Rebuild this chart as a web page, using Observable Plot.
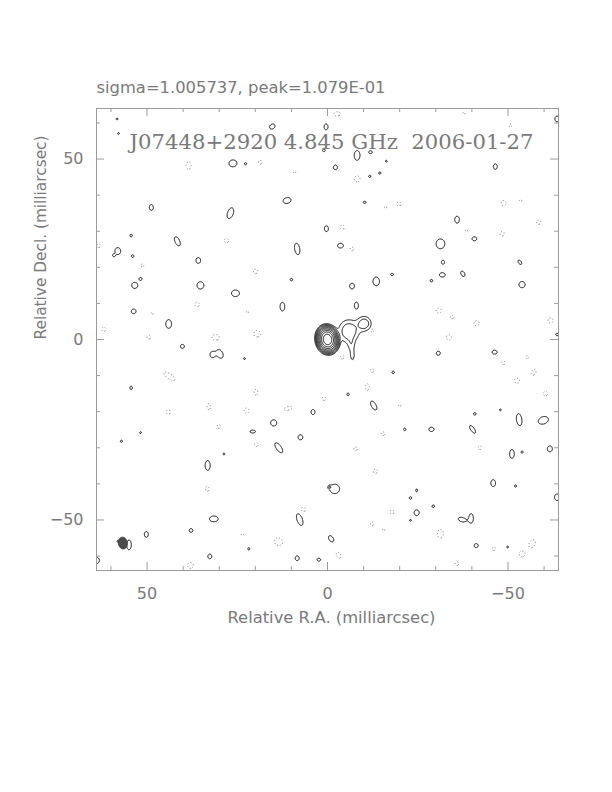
<!DOCTYPE html>
<html><head><meta charset="utf-8">
<script src="https://cdn.jsdelivr.net/npm/d3@7"></script>
<script src="https://cdn.jsdelivr.net/npm/@observablehq/plot@0.6"></script>
<style>body{margin:0;background:#fff} svg{display:block}</style>
</head><body><div id="chart"></div>
<script>
// ---- Texts ----
const statsLabel = "sigma=1.005737, peak=1.079E-01";
const titleLabel = "J07448+2920 4.845 GHz  2006-01-27";
const xAxisLabel = "Relative R.A. (milliarcsec)";
const yAxisLabel = "Relative Decl. (milliarcsec)";

// ---- Axes (milliarcsec) ----
const mapHalfSize = 64;
const tickValues = [-60, -50, -40, -30, -20, -10, 0, 10, 20, 30, 40, 50, 60];
const labelledTicks = [-50, 0, 50];

// ---- Contour levels (relative to the lowest contour) ----
const contourLevels = [1, 2, 4, 8, 16, 32, 64, 128, 256];

// ---- Source model components: [RA, Dec, amplitude, sigmaX, sigmaY, tilt deg] ----
const sourceComponents = [
  [0.0, 0.0, 500, 1.0, 1.25, -10],
  [-5.9, 2.3, 3.4, 1.8, 2.0, 0],
  [-10.2, 4.4, 3.1, 1.25, 1.3, 0],
  [-6.6, -1.5, 1.3, 0.7, 1.3, 0],
  [-6.9, -4.5, 1.3, 0.6, 1.3, 0]
];

// ---- Positive noise islands: [RA, Dec, halfWidth, halfHeight, tilt deg] ----
const positiveIslands = [
  [15.3, 59.0, 0.8, 0.65, -40], [0.4, 58.9, 0.55, 0.8, 0], [26.2, 48.8, 1.1, 0.95, 0],
  [22.7, 48.7, 0.3, 0.3, 0], [11.2, 38.5, 1.1, 0.8, -15], [48.8, 36.6, 0.55, 0.8, 0],
  [26.9, 35.0, 0.8, 1.55, 20], [54.4, 28.8, 0.35, 0.35, 0], [0.3, 30.7, 0.55, 0.8, 0],
  [41.6, 27.2, 0.65, 1.35, -25], [8.4, 25.1, 0.7, 1.6, -10], [58.1, 24.5, 0.8, 0.95, 0],
  [59.2, 23.3, 0.3, 0.3, 0], [54.0, 23.1, 0.35, 0.35, 0], [35.8, 21.9, 0.65, 0.8, 0],
  [53.4, 15.0, 0.85, 0.85, 0], [51.8, 16.8, 0.4, 0.4, 0], [35.2, 15.0, 0.95, 1.0, 0],
  [25.5, 12.8, 1.1, 0.9, 0], [10.0, 16.6, 0.35, 0.35, 0], [12.5, 9.1, 0.65, 1.2, 0],
  [53.7, 7.8, 0.65, 0.65, 0], [44.0, 4.3, 0.8, 1.2, 0], [58.3, 61.1, 0.25, 0.25, 0],
  [57.9, 57.1, 0.25, 0.25, 0], [1.0, 52.4, 0.4, 0.35, 0], [-8.2, 51.0, 0.8, 1.35, 0],
  [-11.9, 51.9, 0.5, 0.4, 0], [-2.2, 47.7, 0.55, 0.65, 0], [-11.7, 45.2, 0.3, 0.3, 0],
  [-14.5, 46.1, 0.3, 0.3, 0], [-16.3, 49.4, 0.25, 0.25, 0], [-46.5, 47.9, 0.55, 0.75, 0],
  [-10.3, 38.0, 0.4, 0.3, 0], [-35.9, 33.2, 0.65, 0.95, 0], [-31.3, 26.5, 1.2, 1.35, 0],
  [-40.7, 27.9, 0.65, 0.55, 0], [-3.6, 26.0, 0.8, 0.65, 0], [-32.0, 21.4, 0.45, 0.55, 0],
  [-53.3, 21.4, 0.4, 0.7, -35], [-13.5, 16.1, 0.9, 1.2, 0], [-17.9, 18.0, 0.4, 0.3, 0],
  [-31.8, 17.9, 0.8, 0.6, 0], [-28.8, 16.3, 0.35, 0.35, 0], [-37.5, 18.2, 0.5, 0.8, -30],
  [-6.8, 14.8, 0.65, 0.8, 0], [-53.9, 15.2, 0.85, 0.85, 0], [-8.0, 9.4, 0.55, 0.95, 0],
  [-63.6, 61.1, 0.6, 0.8, 0], [40.2, -1.9, 0.55, 0.55, 0], [31.9, -4.2, 0.65, 0.8, 0],
  [29.8, -4.0, 0.8, 1.25, -25], [23.0, -5.3, 0.25, 0.25, 0], [54.4, -13.4, 0.35, 0.45, 0],
  [4.0, -20.1, 0.55, 0.7, 0], [14.9, -23.1, 0.85, 0.85, 0], [20.7, -25.5, 0.75, 0.4, 0],
  [7.5, -27.1, 0.65, 0.7, 0], [13.5, -30.0, 0.7, 1.6, -35], [57.1, -28.2, 0.3, 0.3, 0],
  [51.8, -25.8, 0.25, 0.25, 0], [28.7, -31.7, 0.25, 0.25, 0], [33.2, -34.9, 0.7, 1.35, 0],
  [31.5, -49.7, 1.2, 0.8, 0], [7.7, -49.9, 0.75, 1.7, -20], [37.8, -52.9, 0.5, 0.5, 0],
  [50.2, -54.0, 0.55, 0.8, 0], [55.0, -56.9, 0.65, 1.35, 0], [58.0, -55.9, 0.3, 0.3, 0],
  [-1.0, -55.2, 0.6, 0.95, -35], [32.6, -60.1, 0.55, 0.65, 0], [8.4, -60.6, 0.55, 0.65, 0],
  [2.4, -61.0, 0.5, 0.4, 0], [21.8, -58.0, 0.3, 0.3, 0], [64.0, -61.2, 0.8, 0.9, 0],
  [-0.6, -40.9, 0.3, 0.3, 0], [-30.7, -3.8, 0.55, 0.55, 0], [-46.3, -3.5, 0.7, 0.55, 0],
  [-18.2, -9.1, 0.35, 0.35, 0], [-5.7, -15.2, 0.35, 0.35, 0], [-12.8, -18.3, 0.65, 1.35, -30],
  [-40.8, -20.6, 0.35, 0.35, 0], [-21.4, -24.9, 0.35, 0.35, 0], [-28.8, -24.9, 0.7, 0.6, 0],
  [-40.2, -24.9, 0.5, 1.25, -35], [-53.1, -22.2, 0.75, 1.65, -8], [-59.8, -22.4, 1.45, 1.0, -20],
  [-47.9, -19.5, 0.25, 0.25, 0], [-51.1, -31.7, 0.65, 1.2, 0], [-53.9, -31.2, 0.3, 0.3, 0],
  [-61.6, -30.3, 0.7, 0.8, 0], [-2.0, -41.4, 1.35, 1.3, 0], [-24.7, -41.8, 0.25, 0.4, 0],
  [-23.0, -43.9, 0.35, 0.35, 0], [-29.3, -46.2, 0.35, 0.35, 0], [-24.7, -48.0, 0.7, 0.8, 0],
  [-37.3, -49.9, 1.1, 0.6, 15], [-39.8, -49.5, 0.6, 1.25, 0], [-45.9, -39.8, 0.65, 0.95, 0],
  [-52.1, -40.6, 0.3, 0.3, 0], [-63.6, -43.7, 0.7, 0.9, 0], [-41.2, -57.1, 0.55, 0.55, 0],
  [-23.0, -50.1, 0.25, 0.25, 0], [-49.9, -57.5, 0.25, 0.25, 0], [-63.6, 1.4, 0.35, 0.35, 0]
];

// ---- Negative noise islands: [RA, Dec, halfWidth, halfHeight, tilt deg] ----
const negativeIslands = [
  [38.5, 48.2, 0.7, 1.0, 0], [18.6, 49.1, 0.5, 0.5, 0], [9.1, 46.3, 0.3, 0.3, 0],
  [28.0, 27.4, 0.6, 0.6, 0], [19.9, 18.9, 0.6, 0.6, 0], [51.3, 20.5, 0.4, 0.4, 0],
  [36.1, 9.7, 0.6, 0.6, 0], [63.4, 26.0, 0.5, 0.5, 0], [62.0, 2.8, 0.6, 0.6, 0],
  [31.0, 0.6, 1.0, 0.8, 0], [19.5, 1.6, 0.9, 0.9, 0], [48.6, 7.2, 0.3, 0.3, 0],
  [22.2, 7.6, 0.3, 0.3, 0], [-2.7, 62.5, 0.9, 0.6, 0], [-37.8, 62.7, 0.3, 0.3, 0],
  [-8.2, 44.5, 0.8, 0.8, 0], [-19.8, 37.6, 0.7, 0.5, 0], [-16.1, 36.6, 0.3, 0.3, 0],
  [-48.8, 37.8, 0.7, 0.7, 0], [-53.5, 38.5, 0.3, 0.3, 0], [-50.7, 59.3, 0.4, 0.4, 0],
  [-58.5, 32.5, 0.6, 0.6, 0], [-48.4, 29.3, 0.6, 0.6, 0], [-4.1, 31.1, 0.6, 0.6, 0],
  [-6.8, 25.1, 0.5, 0.5, 0], [-38.5, 30.2, 0.3, 0.3, 0], [-30.8, 8.0, 0.7, 0.7, 0],
  [-34.5, 6.2, 0.5, 0.5, 0], [-41.3, 4.5, 0.7, 0.7, 0], [-61.8, 5.3, 0.7, 0.7, 0],
  [-12.4, 2.5, 0.4, 0.4, 0], [-33.6, 0.6, 0.7, 0.7, 0], [49.5, 0.6, 0.5, 0.5, 0],
  [43.8, -10.2, 0.7, 1.8, -55], [19.8, -14.6, 0.5, 0.8, 0], [32.9, -18.6, 0.5, 0.8, 0],
  [44.1, -20.1, 0.6, 0.6, 0], [30.1, -24.1, 0.5, 0.5, 0], [22.4, -19.7, 0.7, 0.7, 0],
  [10.9, -19.1, 1.2, 0.5, -15], [19.7, -29.1, 0.5, 0.5, 0], [1.0, -16.4, 0.5, 0.5, 0],
  [33.3, -41.4, 0.5, 0.7, 0], [6.7, -47.1, 0.6, 0.6, 0], [13.6, -56.0, 1.2, 1.0, 30],
  [38.0, -62.6, 0.8, 0.8, 0], [-4.1, -4.9, 0.5, 0.5, 0], [-7.0, -5.3, 0.4, 0.4, 0],
  [-12.4, -8.6, 0.5, 0.5, 0], [-11.0, -13.2, 0.6, 0.9, 0], [-48.7, -6.5, 0.5, 0.5, 0],
  [-55.3, -4.9, 0.4, 0.4, 0], [-57.1, -9.1, 0.6, 0.9, 30], [-52.5, -11.4, 0.7, 0.7, 0],
  [-60.4, -15.0, 0.6, 0.6, 0], [-15.4, -26.1, 0.5, 0.5, 0], [-7.8, -30.3, 0.5, 0.5, 0],
  [-42.2, -30.0, 0.5, 0.5, 0], [-13.3, -36.5, 0.6, 0.6, 0], [-20.0, -18.3, 0.3, 0.3, 0],
  [-17.9, -47.8, 0.6, 0.6, 0], [-12.4, -51.1, 0.5, 0.5, 0], [-15.6, -52.7, 0.3, 0.3, 0],
  [-31.3, -53.8, 0.8, 1.2, 0], [-46.1, -58.0, 0.5, 0.5, 0], [-3.1, -59.8, 0.6, 0.9, -30],
  [-53.9, -59.4, 0.8, 0.8, 0], [-56.7, -56.6, 0.8, 1.2, 30], [-35.9, -62.1, 0.5, 0.5, 0],
  [23.6, -54.0, 0.3, 0.3, 0]
];

// ---- Restoring beam: [RA, Dec, FWHM x, FWHM y, tilt deg] ----
const beam = [56.7, -56.4, 2.5, 3.3, -10];

// ---- Build gridded images (sampled on a fine raster, drawn by Plot.contour) ----
const N = 800, STEP = 2 * mapHalfSize / N;
function addGaussian(grid, ra, dec, amp, sx, sy, tilt) {
  const t = tilt * Math.PI / 180, c = Math.cos(t), s = Math.sin(t);
  const R = 5 * Math.max(sx, sy);
  const i0 = Math.max(0, Math.floor((mapHalfSize - (ra + R)) / STEP));
  const i1 = Math.min(N - 1, Math.ceil((mapHalfSize - (ra - R)) / STEP));
  const j0 = Math.max(0, Math.floor((mapHalfSize - (dec + R)) / STEP));
  const j1 = Math.min(N - 1, Math.ceil((mapHalfSize - (dec - R)) / STEP));
  for (let j = j0; j <= j1; j++) {
    const v = (mapHalfSize - (j + 0.5) * STEP) - dec;
    for (let i = i0; i <= i1; i++) {
      const u = -((mapHalfSize - (i + 0.5) * STEP) - ra);
      const a = u * c - v * s, b = u * s + v * c;
      grid[j * N + i] += amp * Math.exp(-0.5 * (a * a / (sx * sx) + b * b / (sy * sy)));
    }
  }
}
const ISLAND_AMP = 1.6, islandK = Math.sqrt(2 * Math.log(ISLAND_AMP));
const posGrid = new Float64Array(N * N);
const negGrid = new Float64Array(N * N);
const beamGrid = new Float64Array(N * N);
for (const [ra, dec, amp, sx, sy, t] of sourceComponents) addGaussian(posGrid, ra, dec, amp, sx, sy, t);
for (const [ra, dec, rx, ry, t] of positiveIslands) addGaussian(posGrid, ra, dec, ISLAND_AMP, rx / islandK, ry / islandK, t);
for (const [ra, dec, rx, ry, t] of negativeIslands) addGaussian(negGrid, ra, dec, ISLAND_AMP, rx / islandK, ry / islandK, t);
{
  const [ra, dec, fx, fy, t] = beam, f = 2 * Math.sqrt(2 * Math.log(2));
  addGaussian(beamGrid, ra, dec, 1, fx / f, fy / f, t);
}

const rasterOpts = {width: N, height: N, x1: mapHalfSize, x2: -mapHalfSize, y1: mapHalfSize, y2: -mapHalfSize, value: Plot.identity};

// ---- Layout ----
const W = 612, H = 792, mL = 96, mR = 54, mT = 108, mB = 222;
const frameH = H - mT - mB, frameW = W - mL - mR;
const minor = 4, major = 8;
const minorTicks = tickValues.filter(d => !labelledTicks.includes(d));
const textColor = "#7a7a7a";
const axisColor = "#9c9c9c";
const sans = "DejaVu Sans, Liberation Sans, sans-serif";
const fmt = d => d < 0 ? "\u2212" + Math.abs(d) : String(d);

const plot = Plot.plot({
  width: W, height: H,
  marginLeft: mL, marginRight: mR, marginTop: mT, marginBottom: mB,
  x: {domain: [mapHalfSize, -mapHalfSize], axis: null},
  y: {domain: [-mapHalfSize, mapHalfSize], axis: null},
  style: {background: "white", overflow: "visible"},
  marks: [
    Plot.contour(negGrid, {...rasterOpts, thresholds: [1], fill: "none", stroke: "#777", strokeWidth: 1, strokeDasharray: "1,2.2"}),
    Plot.contour(posGrid, {...rasterOpts, thresholds: contourLevels, fill: "none", stroke: "#111", strokeWidth: 1}),
    Plot.contour(beamGrid, {...rasterOpts, thresholds: [0.5], fill: "#4d4d4d", stroke: "#333", strokeWidth: 0.8}),
    Plot.frame({stroke: axisColor}),
    // inward ticks on all four sides
    Plot.tickX(minorTicks, {x: d => d, insetTop: frameH - minor, stroke: axisColor}),
    Plot.tickX(minorTicks, {x: d => d, insetBottom: frameH - minor, stroke: axisColor}),
    Plot.tickX(labelledTicks, {x: d => d, insetTop: frameH - major, stroke: axisColor}),
    Plot.tickX(labelledTicks, {x: d => d, insetBottom: frameH - major, stroke: axisColor}),
    Plot.tickY(minorTicks, {y: d => d, insetRight: frameW - minor, stroke: axisColor}),
    Plot.tickY(minorTicks, {y: d => d, insetLeft: frameW - minor, stroke: axisColor}),
    Plot.tickY(labelledTicks, {y: d => d, insetRight: frameW - major, stroke: axisColor}),
    Plot.tickY(labelledTicks, {y: d => d, insetLeft: frameW - major, stroke: axisColor}),
    // tick labels
    Plot.text(labelledTicks, {x: d => d, text: fmt, frameAnchor: "bottom", lineAnchor: "middle", dy: 23, fontSize: 16, fontFamily: sans, fill: textColor}),
    Plot.text(labelledTicks, {y: d => d, text: fmt, frameAnchor: "left", lineAnchor: "middle", dx: -13, textAnchor: "end", fontSize: 16, fontFamily: sans, fill: textColor}),
    // axis titles
    Plot.text([xAxisLabel], {text: d => d, frameAnchor: "bottom", lineAnchor: "middle", dx: 4, dy: 48, fontSize: 15, fontFamily: sans, fill: textColor}),
    Plot.text([yAxisLabel], {text: d => d, frameAnchor: "left", lineAnchor: "middle", dx: -55, rotate: -90, fontSize: 15, fontFamily: sans, fill: textColor}),
    // stats line above map and title inside map
    Plot.text([statsLabel], {text: d => d, frameAnchor: "top-left", lineAnchor: "middle", dy: -20, textAnchor: "start", fontSize: 15, fontFamily: sans, fill: textColor}),
    Plot.text([titleLabel], {text: d => d, frameAnchor: "top", lineAnchor: "middle", dx: 4, dy: 34, fontSize: 20, fontFamily: "DejaVu Serif, Liberation Serif, serif", fill: "#7a7a7a"})
  ]
});
document.getElementById("chart").appendChild(plot);

// fit text widths to the reference
const widths = {[statsLabel]: 289, [titleLabel]: 404, [xAxisLabel]: 208, [yAxisLabel]: 204};
d3.select(plot).selectAll("text").each(function () {
  const w = widths[this.textContent];
  if (w) { this.setAttribute("textLength", w); this.setAttribute("lengthAdjust", "spacingAndGlyphs"); }
});
</script></body></html>
